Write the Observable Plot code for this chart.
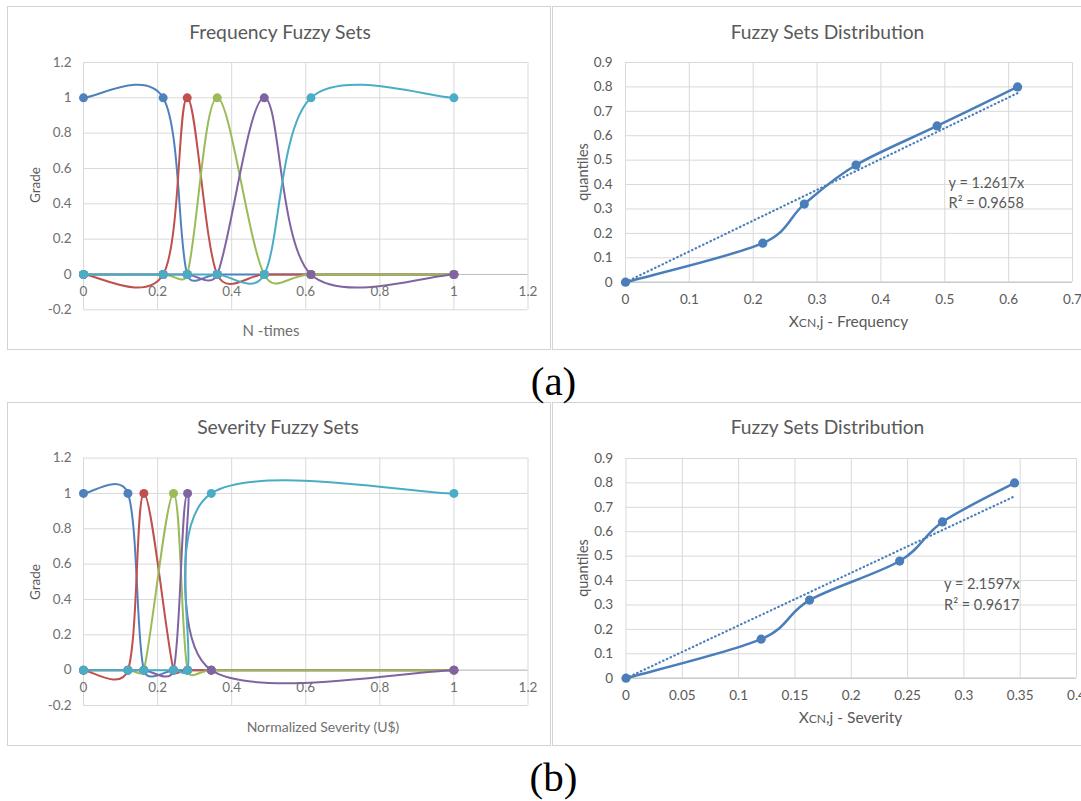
<!DOCTYPE html>
<html><head><meta charset="utf-8">
<script src="https://cdn.jsdelivr.net/npm/d3@7"></script>
<script src="https://cdn.jsdelivr.net/npm/@observablehq/plot@0.6"></script>
<style>
html,body{margin:0;padding:0;background:#fff;overflow:hidden;}
#root{position:relative;width:1081px;height:801px;overflow:hidden;font-family:Lato,"Open Sans",sans-serif;background:#fff;}
.panel{position:absolute;border:1px solid #d3d3d3;box-sizing:border-box;}
.lbl{position:absolute;transform:translate(-50%,-50%);white-space:nowrap;color:#595959;line-height:1;}
.rot{transform:translate(-50%,-50%) rotate(-90deg);}
.fig{position:absolute;transform:translate(-50%,-50%);font-family:"Liberation Serif","Times New Roman",serif;font-size:41px;color:#000;line-height:1;white-space:nowrap;}
.chart{position:absolute;}
</style></head>
<body><div id="root"></div>
<script>
// ---------- data ----------
const freqX   = [0, 0.215, 0.28, 0.361, 0.488, 0.614, 1];
const freqSet1 = [1, 1, 0, 0, 0, 0, 0];
const freqSet2 = [0, 0, 1, 0, 0, 0, 0];
const freqSet3 = [0, 0, 0, 1, 0, 0, 0];
const freqSet4 = [0, 0, 0, 0, 1, 0, 0];
const freqSet5 = [0, 0, 0, 0, 0, 1, 1];

const sevX   = [0, 0.12, 0.163, 0.243, 0.281, 0.345, 1];
const sevSet1 = [1, 1, 0, 0, 0, 0, 0];
const sevSet2 = [0, 0, 1, 0, 0, 0, 0];
const sevSet3 = [0, 0, 0, 1, 0, 0, 0];
const sevSet4 = [0, 0, 0, 0, 1, 0, 0];
const sevSet5 = [0, 0, 0, 0, 0, 1, 1];

const freqXC = [0, 0.215, 0.28, 0.361, 0.488, 0.614];
const sevXC  = [0, 0.12, 0.163, 0.243, 0.281, 0.345];
const quantiles = [0, 0.16, 0.32, 0.48, 0.64, 0.8];

const freqSlope = 1.2617, freqR2 = 0.9658;
const sevSlope  = 2.1597, sevR2  = 0.9617;

const gradeTicks    = [-0.2, 0, 0.2, 0.4, 0.6, 0.8, 1, 1.2];
const setXTicks     = [0, 0.2, 0.4, 0.6, 0.8, 1, 1.2];
const quantTicks    = [0, 0.1, 0.2, 0.3, 0.4, 0.5, 0.6, 0.7, 0.8, 0.9];
const freqDistTicks = [0, 0.1, 0.2, 0.3, 0.4, 0.5, 0.6, 0.7];
const sevDistTicks  = [0, 0.05, 0.1, 0.15, 0.2, 0.25, 0.3, 0.35, 0.4];

// ---------- style ----------
const SET_COLORS = ["#4F81BD", "#C0504D", "#9BBB59", "#8064A2", "#4BACC6"];
const DIST_COLOR = "#4A7EBB";
const GRID = "#d9d9d9", AXIS = "#bfbfbf", TICK = "#595959";
const FONT = "Lato, 'Open Sans', sans-serif";
const fmt = d => String(+d.toFixed(2));

// Excel-like smoothed line (cardinal bezier, tangent limited by segment length)
function excelCurve(context) {
  let pts = [];
  return {
    areaStart() {}, areaEnd() {},
    lineStart() { pts = []; },
    point(x, y) { pts.push([+x, +y]); },
    lineEnd() {
      const n = pts.length; if (!n) return;
      context.moveTo(pts[0][0], pts[0][1]);
      for (let i = 0; i < n - 1; i++) {
        const p0 = pts[Math.max(i - 1, 0)], p1 = pts[i], p2 = pts[i + 1], p3 = pts[Math.min(i + 2, n - 1)];
        const seg = Math.hypot(p2[0] - p1[0], p2[1] - p1[1]);
        const lim = v => { const L = Math.hypot(v[0], v[1]), m = seg * 0.5; return L > m && L > 0 ? [v[0] * m / L, v[1] * m / L] : v; };
        const a = lim([(p2[0] - p0[0]) / 6, (p2[1] - p0[1]) / 6]);
        const b = lim([(p3[0] - p1[0]) / 6, (p3[1] - p1[1]) / 6]);
        context.bezierCurveTo(p1[0] + a[0], p1[1] + a[1], p2[0] - b[0], p2[1] - b[1], p2[0], p2[1]);
      }
    }
  };
}

const root = document.getElementById("root");
function place(el, left, top) { el.classList.add("chart"); el.style.left = left + "px"; el.style.top = top + "px"; root.appendChild(el); }
function panel(l, t, w, h) { const d = document.createElement("div"); d.className = "panel"; Object.assign(d.style, {left: l + "px", top: t + "px", width: w + "px", height: h + "px"}); root.appendChild(d); }
function label(html, x, y, size, extra = "", cls = "lbl") {
  const d = document.createElement("div"); d.className = cls; d.innerHTML = html;
  d.style.left = x + "px"; d.style.top = y + "px"; if (size) d.style.fontSize = size + "px";
  if (extra) d.style.cssText += extra; root.appendChild(d);
}

function fuzzyChart(xs, sets, m) {
  const marks = [
    Plot.ruleX(setXTicks, {x: d => d, stroke: GRID}),
    Plot.ruleY(gradeTicks, {y: d => d, stroke: GRID}),
    Plot.ruleY([0], {y: d => d, stroke: AXIS})
  ];
  sets.forEach((s, i) => {
    const data = xs.map((x, j) => ({x, g: s[j]}));
    marks.push(Plot.line(data, {x: "x", y: "g", stroke: SET_COLORS[i], strokeWidth: 2, curve: excelCurve}));
    marks.push(Plot.dot(data, {x: "x", y: "g", fill: SET_COLORS[i], r: 4.5}));
  });
  marks.push(Plot.text(gradeTicks, {x: () => 0, y: d => d, text: fmt, textAnchor: "end", dx: -12, fill: "#6f6f6f"}));
  marks.push(Plot.text(setXTicks, {x: d => d, y: () => 0, text: fmt, dy: 17.5, fill: "#6f6f6f"}));
  return Plot.plot({
    width: m.w, height: m.h, marginLeft: m.l, marginRight: m.r, marginTop: m.t, marginBottom: m.b,
    x: {domain: [0, 1.2], axis: null}, y: {domain: [-0.2, 1.2], axis: null},
    style: {fontFamily: FONT, fontSize: "13.5px", background: "transparent", overflow: "visible"},
    marks
  });
}

function distChart(xs, qs, xTicks, xMax, slope, r2, ann, m) {
  const pts = xs.map((x, i) => ({x, q: qs[i]}));
  const xEnd = xs[xs.length - 1];
  const trend = [{x: 0, q: 0}, {x: xEnd, q: slope * xEnd}];
  return Plot.plot({
    width: m.w, height: m.h, marginLeft: m.l, marginRight: m.r, marginTop: m.t, marginBottom: m.b,
    x: {domain: [0, xMax], axis: null}, y: {domain: [0, 0.9], axis: null},
    style: {fontFamily: FONT, fontSize: "13.5px", background: "transparent", overflow: "visible"},
    marks: [
      Plot.ruleX(xTicks, {x: d => d, stroke: GRID}),
      Plot.ruleY(quantTicks, {y: d => d, stroke: GRID}),
      Plot.ruleY([0], {y: d => d, stroke: AXIS}),
      Plot.line(trend, {x: "x", y: "q", stroke: DIST_COLOR, strokeWidth: 2.2, strokeDasharray: "0.5,3.6", strokeLinecap: "round"}),
      Plot.line(pts, {x: "x", y: "q", stroke: DIST_COLOR, strokeWidth: 2.5, curve: excelCurve}),
      Plot.dot(pts, {x: "x", y: "q", fill: DIST_COLOR, r: 4.6}),
      Plot.text(quantTicks, {x: () => 0, y: d => d, text: fmt, textAnchor: "end", dx: -13, fill: TICK}),
      Plot.text(xTicks, {x: d => d, y: () => 0, text: fmt, dy: 17.6, fill: TICK}),
      Plot.text([`y = ${slope}x\nR² = ${r2}`], {x: () => ann[0], y: () => ann[1], text: d => d, textAnchor: "start", lineHeight: 1.4, fontSize: 14.5, fill: TICK})
    ]
  });
}

// ---------- panels ----------
panel(7, 6, 544, 344);
panel(552, 6, 560, 344);
panel(7, 402, 544, 344);
panel(552, 402, 560, 344);

place(fuzzyChart(freqX, [freqSet1, freqSet2, freqSet3, freqSet4, freqSet5],
  {w: 543, h: 343, l: 76, r: 22.5, t: 56, b: 39.7}), 7, 6);
place(fuzzyChart(sevX, [sevSet1, sevSet2, sevSet3, sevSet4, sevSet5],
  {w: 543, h: 343, l: 76, r: 22.5, t: 55.6, b: 40}), 7, 402);
place(distChart(freqXC, quantiles, freqDistTicks, 0.7, freqSlope, freqR2, [0.506, 0.372],
  {w: 529, h: 343, l: 73, r: 9, t: 56, b: 67.3}), 552, 6);
place(distChart(sevXC, quantiles, sevDistTicks, 0.4, sevSlope, sevR2, [0.2824, 0.349],
  {w: 529, h: 343, l: 73.5, r: 5, t: 56, b: 67.3}), 552, 402);

// ---------- text ----------
label("Frequency Fuzzy Sets", 280, 31.5, 19.3);
label("Fuzzy Sets Distribution", 827.5, 31.5, 19.2);
label("Severity Fuzzy Sets", 278, 427, 19.3);
label("Fuzzy Sets Distribution", 827.5, 427, 19.2);

label("Grade", 35.5, 185, 13.5, "", "lbl rot");
label("Grade", 35.5, 581.5, 13.5, "", "lbl rot");
label("N -times", 271, 330, 15, "color:#6f6f6f");
label("Normalized Severity (U$)", 323, 727, 14, "color:#6f6f6f");
label("quantiles", 583, 171.5, 14.5, "", "lbl rot");
label("quantiles", 583, 568, 14.5, "", "lbl rot");
label('X<span style="font-size:0.78em">CN</span>,j - Frequency', 848.5, 321.5, 15.5);
label('X<span style="font-size:0.78em">CN</span>,j - Severity', 850.5, 717.7, 15.5);

label("(a)", 553.5, 381, 0, "", "fig");
label("(b)", 553.5, 777, 0, "", "fig");
</script>
</body></html>
